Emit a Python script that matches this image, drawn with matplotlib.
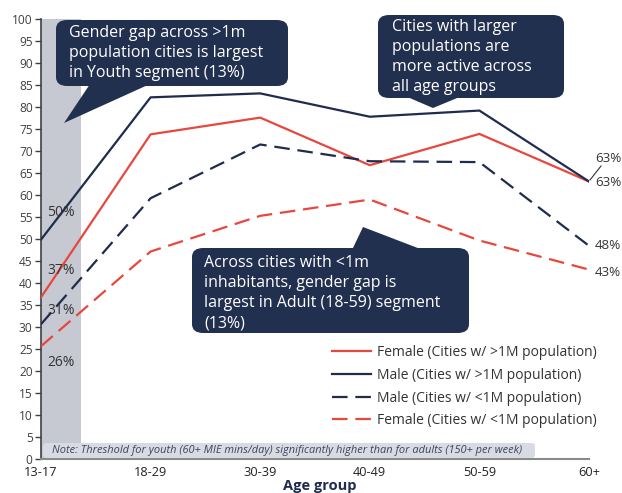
import matplotlib
matplotlib.use("Agg")
import matplotlib.pyplot as plt
from matplotlib.patches import FancyBboxPatch, Polygon
from matplotlib.lines import Line2D

plt.rcParams['font.family'] = ['Open Sans', 'DejaVu Sans']

# ---------------- data ----------------
age_groups = ["13-17", "18-29", "30-39", "40-49", "50-59", "60+"]
female_big = [36.7, 73.7, 77.5, 66.7, 73.8, 63.0]
male_big = [49.8, 82.1, 83.0, 77.7, 79.1, 63.0]
male_small = [30.6, 59.2, 71.4, 67.6, 67.4, 48.4]
female_small = [25.6, 47.1, 55.2, 58.9, 49.6, 43.0]
series_labels = ["Female (Cities w/ >1M population)",
                 "Male (Cities w/ >1M population)",
                 "Male (Cities w/ <1M population)",
                 "Female (Cities w/ <1M population)"]
yticks = list(range(0, 101, 5))

RED = "#e8473d"
NAVY = "#1f2c4d"
BOX = "#22304f"
GREY = "#404040"

W, H = 622, 493
fig = plt.figure(figsize=(W / 100, H / 100), dpi=100)


def fx(x):
    return x / W


def fy(y):
    return 1 - y / H


ax = fig.add_axes([fx(41), fy(459), fx(589) - fx(41), fy(18.5) - fy(459)])
x = list(range(len(age_groups)))
ax.set_xlim(0, len(age_groups) - 1)
ax.set_ylim(0, 100)

ax.axvspan(0, 0.365, color="#c6c8d2", zorder=0, lw=0)

lw = 1.6
l1, = ax.plot(x, female_big, color=RED, lw=lw, label=series_labels[0], zorder=3)
l2, = ax.plot(x, male_big, color=NAVY, lw=lw, label=series_labels[1], zorder=3)
l3, = ax.plot(x, male_small, color=NAVY, lw=lw, dashes=(7, 3.5), label=series_labels[2], zorder=3)
l4, = ax.plot(x, female_small, color=RED, lw=lw, dashes=(7, 3.5), label=series_labels[3], zorder=3)

ax.set_yticks(yticks)
ax.set_yticklabels([str(t) for t in yticks], fontsize=8.6, color=GREY)
ax.tick_params(axis='y', length=4, width=1, color=GREY, pad=2)
ax.set_xticks(x)
ax.set_xticklabels(age_groups, fontsize=9.2, color="#222222")
ax.tick_params(axis='x', length=0, pad=5)
for s in ["top", "right"]:
    ax.spines[s].set_visible(False)
ax.spines["left"].set_color(GREY)
ax.spines["left"].set_linewidth(1.2)
ax.spines["bottom"].set_color("#8a8a8a")
ax.spines["bottom"].set_linewidth(1.5)

fig.text(fx(320), fy(486), "Age group", ha="center", va="center",
         fontsize=10.5, fontweight="bold", color=NAVY)

# left value labels
lab_fs = 10
left_pos = [(female_big, 270), (male_big, 212), (male_small, 310), (female_small, 362)]
for ser, ypix in left_pos:
    fig.text(fx(47), fy(ypix), f"{round(ser[0])}%", fontsize=lab_fs,
             color="#333333", ha="left", va="center")

# right value labels
right_pos = [(female_big, 182), (male_big, 158), (male_small, 246), (female_small, 273)]
for ser, ypix in right_pos:
    fig.text(fx(595), fy(ypix), f"{round(ser[-1])}%", fontsize=9.6,
             color="#333333", ha="left", va="center")
fig.add_artist(Line2D([fx(590), fx(601)], [fy(180), fy(166)], color="#333333", lw=0.8))


# callouts
def callout(box, tail, lines, text_x, first_y, step, fs=11.5):
    x0, y0, x1, y1 = box
    p = FancyBboxPatch((fx(x0), fy(y1)), fx(x1) - fx(x0), fy(y0) - fy(y1),
                       boxstyle="round,pad=0,rounding_size=0.018",
                       transform=fig.transFigure, fc=BOX, ec="none", zorder=5)
    fig.add_artist(p)
    fig.add_artist(Polygon([(fx(a), fy(b)) for a, b in tail], closed=True,
                           transform=fig.transFigure, fc=BOX, ec="none", zorder=5))
    for i, t in enumerate(lines):
        fig.text(fx(text_x), fy(first_y + i * step), t, color="white", fontsize=fs,
                 ha="left", va="center", zorder=6)


callout((56, 20, 288, 86), [(90, 84), (64, 123), (150, 84)],
        ["Gender gap across >1m", "population cities is largest", "in Youth segment (13%)"],
        69, 33, 20)
callout((378, 15, 564, 98), [(405, 96), (433, 108), (462, 96)],
        ["Cities with larger", "populations are", "more active across", "all age groups"],
        392, 27, 20)
callout((192, 248, 469, 333), [(352, 250), (363, 227), (423, 250)],
        ["Across cities with <1m", "inhabitants, gender gap is",
         "largest in Adult (18-59) segment", "(13%)"],
        204, 263, 20)

# legend
leg = ax.legend(handles=[l1, l2, l3, l4], loc="upper left",
                bbox_to_anchor=(fx(332), fy(345)), bbox_transform=fig.transFigure,
                frameon=False, fontsize=10, handlelength=2.8, handletextpad=0.43,
                labelspacing=0.56, borderpad=0, borderaxespad=0)
for t in leg.get_texts():
    t.set_color("#333333")

# note box
nb = FancyBboxPatch((fx(43), fy(458)), fx(535) - fx(43), fy(443) - fy(458),
                    boxstyle="round,pad=0,rounding_size=0.006",
                    transform=fig.transFigure, fc="#d9dbe2", ec="none", zorder=4)
fig.add_artist(nb)
fig.text(fx(52), fy(451), "Note: Threshold for youth (60+ MIE mins/day) significantly higher than for adults (150+ per week)",
         fontsize=7.95, style="italic", color="#3a4560", ha="left", va="center", zorder=6)

fig.savefig("out.png", dpi=100)
